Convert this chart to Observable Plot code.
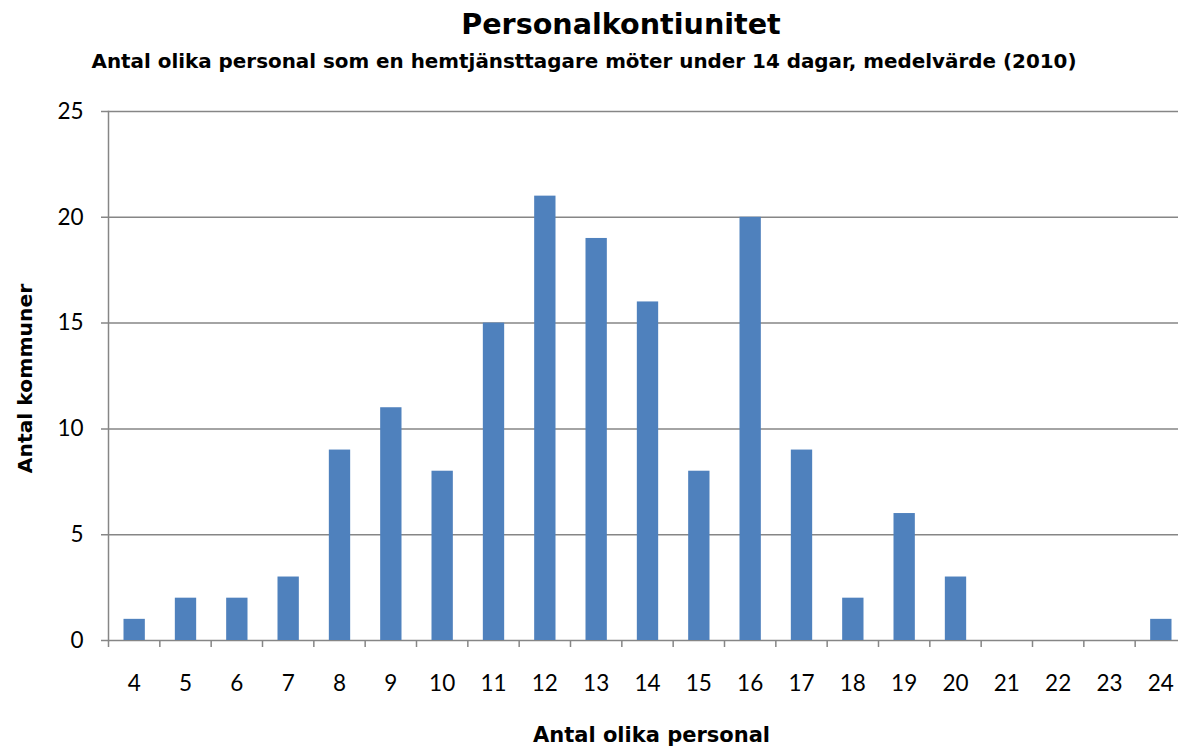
<!DOCTYPE html>
<html>
<head>
<meta charset="utf-8">
<script src="https://cdn.jsdelivr.net/npm/d3@7"></script>
<script src="https://cdn.jsdelivr.net/npm/@observablehq/plot@0.6"></script>
<style>
  html, body { margin: 0; padding: 0; background: #fff; overflow: hidden; }
  #wrap { position: relative; width: 1178px; height: 746px; color: #000; }
  #head { position: relative; height: 88px; font-family: "DejaVu Sans", sans-serif; }
  .t { position: absolute; white-space: nowrap; font-weight: bold; transform: translateX(-50%); line-height: 1; }
  #title { left: 621px; top: 10px; font-size: 28.6px; }
  #subtitle { left: 584px; top: 51.5px; font-size: 19.9px; }
  #chart svg { display: block; }
</style>
</head>
<body>
<div id="wrap">
  <div id="head">
    <div class="t" id="title">Personalkontiunitet</div>
    <div class="t" id="subtitle">Antal olika personal som en hemtjänsttagare möter under 14 dagar, medelvärde (2010)</div>
  </div>
  <div id="chart"></div>
</div>
<script>
const categories = ["4","5","6","7","8","9","10","11","12","13","14","15","16","17","18","19","20","21","22","23","24"];
const counts = [1,2,2,3,9,11,8,15,21,19,16,8,20,9,2,6,3,0,0,0,1];
const yTicks = [0,5,10,15,20,25];
const xLabel = "Antal olika personal";
const yLabel = "Antal kommuner";

const data = categories.map((c, i) => ({i, c, v: counts[i]}));
const boundaries = d3.range(categories.length + 1);
const grey = "#868686";
const labelFont = "'DejaVu Sans', sans-serif";

const chart = Plot.plot({
  width: 1178,
  height: 658,
  marginLeft: 108,
  marginRight: -8,
  marginTop: 23,
  marginBottom: 106,
  x: {type: "linear", domain: [0, categories.length], axis: null},
  y: {domain: [0, 25], axis: null},
  style: {fontFamily: "Lato, 'Open Sans', sans-serif", fontSize: "22.5px", color: "#000", background: "#fff", overflow: "hidden"},
  marks: [
    Plot.ruleY(yTicks, {y: d => d, stroke: grey, strokeWidth: 1.5, insetLeft: -7}),
    Plot.frame({anchor: "left", stroke: grey, strokeWidth: 1.5}),
    Plot.ruleX(boundaries, {x: d => d, y1: 0, y2: 0, insetBottom: -7, stroke: grey, strokeWidth: 1.5}),
    Plot.rectY(data, {x1: "i", x2: d => d.i + 1, y: "v", insetLeft: 15.5, insetRight: 14.5, fill: "#4F81BD"}),
    Plot.text(data, {x: d => d.i + 0.5, text: "c", frameAnchor: "bottom", lineAnchor: "middle", textAnchor: "middle", dy: 43.5, fill: "#000"}),
    Plot.text(yTicks, {y: d => d, text: d => String(d), frameAnchor: "left", lineAnchor: "middle", textAnchor: "end", dx: -25, fill: "#000"}),
    Plot.text([xLabel], {text: d => d, frameAnchor: "bottom", lineAnchor: "middle", textAnchor: "middle", dy: 94.3, dx: 4, fontFamily: labelFont, fontWeight: "bold", fontSize: 21, fill: "#000"}),
    Plot.text([yLabel], {text: d => d, frameAnchor: "left", lineAnchor: "middle", textAnchor: "middle", dx: -83, dy: 2.5, rotate: -90, fontFamily: labelFont, fontWeight: "bold", fontSize: 20.3, fill: "#000"})
  ]
});
document.getElementById("chart").append(chart);
</script>
</body>
</html>
